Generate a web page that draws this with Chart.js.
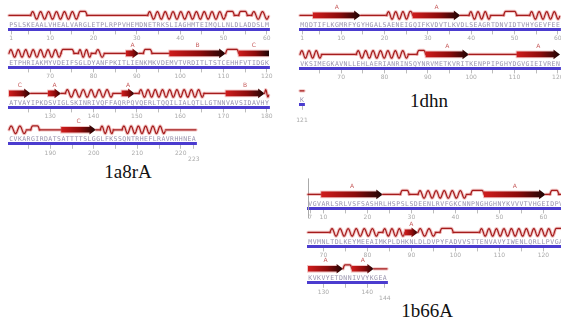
<!DOCTYPE html>
<html>
<head>
<meta charset="utf-8">
<script src="https://cdn.jsdelivr.net/npm/chart.js@4.4.1/dist/chart.umd.min.js"></script>
<style>
  body { margin: 0; background: #fff; width: 561px; height: 329px; overflow: hidden; position: relative; }
  canvas { position: absolute; }
  .name { position: absolute; font-family: 'Liberation Serif', serif; font-size: 19px; color: #111; transform: translate(-50%, -50%); white-space: nowrap; }
</style>
</head>
<body>
<div class="name" style="left:128px;top:172px">1a8rA</div>
<div class="name" style="left:429px;top:101px">1dhn</div>
<div class="name" style="left:427px;top:311px">1b66A</div>
<script>
'use strict';

// sequences, one letter per residue (first residue number given separately)
const seq1a8r = 'PSLSKEAALVHEALVARGLETPLRPPVHEMDNETRKSLIAGHMTEIMQLLNLDLADDSLM' +
  'ETPHRIAKMYVDEIFSGLDYANFPKITLIENKMKVDEMVTVRDITLTSTCEHHFVTIDGK' +
  'ATVAYIPKDSVIGLSKINRIVQFFAQRPQVQERLTQQILIALQTLLGTNNVAVSIDAVHY' +
  'CVKARGIRDATSATTTTSLGGLFKSSQNTRHEFLRAVRHHNEA';
const seq1dhn = 'MQDTIFLKGMRFYGYHGALSAENEIGQIFKVDVTLKVDLSEAGRTDNVIDTVHYGEVFEE' +
  'VKSIMEGKAVNLLEHLAERIANRINSQYNRVMETKVRITKENPPIPGHYDGVGIEIVRE' + 'NK';
const seq1b66 = 'VGVARLSRLVSFSASHRLHSPSLSDEENLRVFGKCNNPNGHGHNYKVVVTVHGEIDPVTG' +
  'MVMNLTDLKEYMEEAIMKPLDHKNLDLDVPYFADVVSTTENVAVYIWENLQRLLPVGALY' +
  'KVKVYETDNNIVVYKGEA';

const first1a8r = 1, last1a8r = 223;
const first1dhn = 1, last1dhn = 121;
const first1b66 = 7, last1b66 = 144;

// residue range shown on each line
const rows1a8r = [[1, 60], [61, 120], [121, 180], [181, 223]];
const rows1dhn = [[1, 60], [61, 120], [121, 121]];
const rows1b66 = [[7, 66], [67, 126], [127, 144]];

// secondary structure: [type, from, to, strand label]  C coil, H helix, T turn, E strand
const ss1a8r = [
  ['C', 1, 5], ['H', 6, 16], ['T', 17, 18], ['C', 19, 32], ['H', 33, 50], ['T', 51, 52], ['C', 53, 53],
  ['T', 54, 55], ['C', 56, 56], ['H', 57, 72], ['T', 73, 75], ['C', 76, 76], ['H', 77, 79], ['C', 80, 80],
  ['H', 81, 82], ['C', 83, 87], ['E', 88, 90, 'A'], ['C', 91, 91], ['T', 92, 93], ['C', 94, 97],
  ['E', 98, 110, 'B'], ['T', 111, 113], ['E', 114, 125, 'C'], ['C', 126, 129], ['E', 130, 132, 'A'],
  ['C', 133, 133], ['H', 134, 144], ['C', 145, 146], ['E', 147, 149, 'A'], ['C', 150, 150], ['H', 151, 165],
  ['C', 166, 170], ['E', 171, 179, 'B'], ['H', 180, 184], ['C', 185, 185], ['T', 186, 187], ['C', 188, 192],
  ['E', 193, 200, 'C'], ['C', 201, 201], ['H', 202, 204], ['C', 205, 206], ['H', 207, 216], ['C', 217, 223]
];
const ss1dhn = [
  ['C', 1, 3], ['E', 4, 14, 'A'], ['C', 15, 20], ['H', 21, 25], ['T', 26, 26], ['E', 27, 37, 'A'],
  ['C', 38, 39], ['H', 40, 44], ['C', 45, 47], ['T', 48, 50], ['C', 51, 53], ['H', 54, 65], ['C', 66, 73],
  ['H', 74, 85], ['C', 86, 87], ['T', 88, 89], ['E', 90, 99, 'A'], ['C', 100, 110], ['E', 111, 120, 'A'],
  ['C', 121, 121]
];
const ss1b66 = [
  ['C', 7, 9], ['E', 10, 23, 'A'], ['C', 24, 27], ['T', 28, 29], ['C', 30, 31], ['H', 32, 42], ['C', 43, 43],
  ['T', 44, 46], ['E', 47, 60, 'A'], ['C', 61, 61], ['T', 62, 63], ['C', 64, 71], ['H', 72, 82], ['C', 83, 83],
  ['H', 84, 88], ['E', 89, 91, 'A'], ['H', 92, 95], ['C', 96, 96], ['T', 97, 99], ['C', 100, 105],
  ['H', 106, 122], ['T', 123, 124], ['C', 125, 126], ['E', 127, 134, 'A'], ['T', 135, 136],
  ['E', 137, 141, 'A'], ['C', 142, 144]
];

// page layout (pixels): left edge of first residue, px per residue, y of the sequence bar per line
const lay1a8r = { left: 11, step: 4.34, bar: [29, 67, 107, 144], edge: false };
const lay1dhn = { left: 302, step: 4.34, bar: [29, 68, 105], edge: false };
const lay1b66 = { left: 310, step: 4.4, bar: [208, 246, 283], edge: true };

const LINE = '#a51c1c';
const GLOW = 'rgba(215,90,90,0.35)';
const BAR = '#4b3ccf';

function stroke(ctx, path) {
  ctx.lineJoin = 'round';
  ctx.lineCap = 'round';
  ctx.strokeStyle = GLOW; ctx.lineWidth = 3.2; path(); ctx.stroke();
  ctx.strokeStyle = LINE; ctx.lineWidth = 1.2; path(); ctx.stroke();
}

const ssPlugin = {
  id: 'ss',
  afterDraw(chart, args, o) {
    const ctx = chart.ctx, xs = chart.scales.x, base = chart.chartArea.bottom;
    const yl = base - 14;
    ctx.save();

    if (o.edge) {
      const ex = Math.round(xs.getPixelForValue(o.start - 0.5)) + 0.5;
      ctx.strokeStyle = '#aaa'; ctx.lineWidth = 1;
      ctx.beginPath(); ctx.moveTo(ex, base - 30); ctx.lineTo(ex, base + 10); ctx.stroke();
    }

    o.segs.forEach(sg => {
      const [t, from, to, lab] = sg;
      if (to < o.start || from > o.end) return;
      const x1 = xs.getPixelForValue(Math.max(from, o.start) - 0.5);
      const x2 = xs.getPixelForValue(Math.min(to, o.end) + 0.5);
      if (t === 'C') {
        stroke(ctx, () => { ctx.beginPath(); ctx.moveTo(x1, yl); ctx.lineTo(x2, yl); });
      } else if (t === 'T') {
        stroke(ctx, () => {
          ctx.beginPath(); ctx.moveTo(x1, yl);
          ctx.quadraticCurveTo(x1 + 1, yl - 4, x1 + 2, yl - 4);
          ctx.lineTo(x2 - 2, yl - 4);
          ctx.quadraticCurveTo(x2 - 1, yl - 4, x2, yl);
        });
      } else if (t === 'H') {
        const w = x2 - x1;
        const n = Math.max(1, Math.round(w / 7.5));
        const p = w / n;
        stroke(ctx, () => {
          ctx.beginPath(); ctx.moveTo(x1, yl);
          for (let x = x1; x <= x2 + 0.01; x += 0.5) {
            ctx.lineTo(x, yl - 3.8 * Math.sin(2 * Math.PI * (x - x1) / p));
          }
        });
      } else if (t === 'E') {
        const head = to <= o.end;
        const hl = head ? Math.min(6.5, (x2 - x1) * 0.6) : 0;
        const g = ctx.createLinearGradient(x1, 0, x2, 0);
        g.addColorStop(0, '#cf1c1c');
        g.addColorStop(0.55, '#8c0b0b');
        g.addColorStop(1, '#1c0404');
        ctx.fillStyle = 'rgba(215,90,90,0.35)';
        ctx.fillRect(x1 - 1, yl - 3.8, x2 - x1 - hl + 1, 7.6);
        ctx.fillStyle = g;
        ctx.beginPath();
        ctx.moveTo(x1, yl - 2.8);
        ctx.lineTo(x2 - hl, yl - 2.8);
        if (head) {
          ctx.lineTo(x2 - hl, yl - 4.8);
          ctx.lineTo(x2, yl);
          ctx.lineTo(x2 - hl, yl + 4.8);
          ctx.lineTo(x2 - hl, yl + 2.8);
        } else {
          ctx.lineTo(x2, yl - 2.8);
          ctx.lineTo(x2, yl + 2.8);
        }
        ctx.lineTo(x1, yl + 2.8);
        ctx.closePath();
        ctx.fill();
        if (lab) {
          ctx.fillStyle = '#c86060';
          ctx.font = '6px "DejaVu Sans"';
          ctx.textAlign = 'center'; ctx.textBaseline = 'middle';
          ctx.fillText(lab, (x1 + x2) / 2, yl - 8);
        }
      }
    });

    // sequence letters
    ctx.fillStyle = '#9893ad';
    ctx.font = '6.5px "DejaVu Sans Mono"';
    ctx.textAlign = 'center'; ctx.textBaseline = 'middle';
    for (let r = o.start; r <= o.end; r++) {
      const ch = o.seq[r - o.first];
      if (ch) ctx.fillText(ch, xs.getPixelForValue(r), base - 4.5);
    }
    ctx.restore();
  }
};

function tickValues(s, e, first, last) {
  const v = [];
  if (s === first) v.push(s);
  for (let r = Math.ceil(s / 5) * 5; r <= e; r += 5) if (!v.includes(r)) v.push(r);
  if (e === last && !v.includes(e)) v.push(e);
  return v;
}

function addRow(seq, first, last, rows, ss, lay, i) {
  const [s, e] = rows[i];
  const n = e - s + 1;
  const cv = document.createElement('canvas');
  cv.width = Math.round(n * lay.step + 24);
  cv.height = 58;
  document.body.appendChild(cv);
  const vals = tickValues(s, e, first, last);
  const chart = new Chart(cv, {
    type: 'scatter',
    data: { datasets: [] },
    options: {
      responsive: false,
      animation: false,
      events: [],
      layout: { padding: { left: 12, right: 12, top: 12, bottom: 2 } },
      plugins: {
        legend: { display: false },
        tooltip: { enabled: false },
        ss: { seq: seq, first: first, start: s, end: e, segs: ss, edge: lay.edge && i === 0 }
      },
      scales: {
        x: {
          type: 'linear',
          min: s - 0.5,
          max: e + 0.5,
          border: { display: true, color: BAR, width: 3 },
          grid: { drawOnChartArea: false, drawTicks: true, tickLength: 5, color: '#aaa', lineWidth: 0.8 },
          afterBuildTicks: sc => { sc.ticks = vals.map(v => ({ value: v })); },
          ticks: {
            autoSkip: false, maxRotation: 0, padding: 1, color: '#aaa',
            font: { size: 6, family: 'DejaVu Sans', lineHeight: 1.1 },
            callback: v => {
              if (v === last && v % 10 !== 0) return ['', String(v)];
              if (v % 10 === 0 || v === first) return String(v);
              return '';
            }
          }
        },
        y: { display: false, min: 0, max: 1 }
      }
    },
    plugins: [ssPlugin]
  });
  cv.style.left = (lay.left - lay.step / 2 - chart.chartArea.left) + 'px';
  cv.style.top = (lay.bar[i] - chart.chartArea.bottom) + 'px';
}

rows1a8r.forEach((r, i) => addRow(seq1a8r, first1a8r, last1a8r, rows1a8r, ss1a8r, lay1a8r, i));
rows1dhn.forEach((r, i) => addRow(seq1dhn, first1dhn, last1dhn, rows1dhn, ss1dhn, lay1dhn, i));
rows1b66.forEach((r, i) => addRow(seq1b66, first1b66, last1b66, rows1b66, ss1b66, lay1b66, i));
</script>
</body>
</html>
